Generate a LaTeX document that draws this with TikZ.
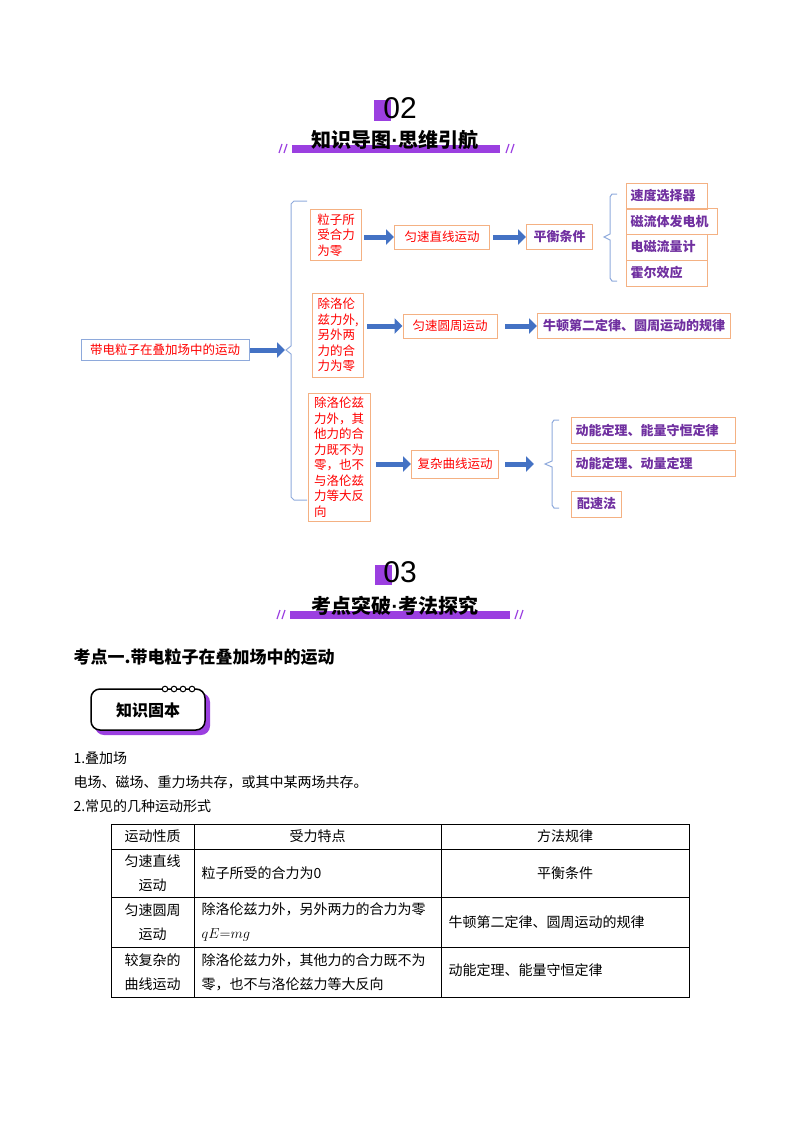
\documentclass[tikz,border=0pt]{standalone}
\usepackage{fontspec}
\setmainfont{Noto Sans CJK SC}
\newfontfamily\latinsans{Liberation Sans}
\usetikzlibrary{arrows.meta}
\definecolor{pur}{HTML}{9B3FE0}
\definecolor{tpur}{HTML}{7030A0}
\definecolor{obord}{HTML}{F4B183}
\definecolor{bbord}{HTML}{8EA9DB}
\definecolor{arr}{HTML}{4472C4}
\definecolor{brk}{HTML}{8FAADC}
\tikzset{
 box/.style={draw=obord,line width=1,inner sep=2,align=left,text=red,font=\fontsize{12.5}{15.5}\selectfont},
 pbox/.style={draw=obord,line width=1,inner xsep=4,inner ysep=3,anchor=west,text=tpur,align=left,font=\bfseries\fontsize{13}{15}\selectfont},
 barrow/.style={arr,line width=5,-{Triangle[length=8,width=15]}},
 brkt/.style={brk,line width=1},
 body/.style={anchor=west,font=\fontsize{14}{17}\selectfont},
 cell/.style={font=\fontsize{14}{24}\selectfont,align=center},
}
\begin{document}
\begin{tikzpicture}[x=1pt,y=-1pt]
\useasboundingbox (0,0) rectangle (800,1132);
% header 02
\fill[pur] (374,100) rectangle (391,121);
\node (n02) at (400,108) {\latinsans\fontsize{30}{30}\selectfont 02};
\fill[pur] (292,145) rectangle (500,153);
\node (t02) at (395,140) {\bfseries\fontsize{20}{20}\selectfont 知识导图{\latinsans ·}思维引航};
\foreach \x in {279,284,506,511}{\draw[pur,line width=1.2] (\x,153)--(\x+3,144);}
% mind map
\node[draw=bbord,line width=1,text=red,font=\fontsize{12.5}{15}\selectfont,minimum width=168,minimum height=21,inner sep=1] (root) at (165,350) {带电粒子在叠加场中的运动};
\coordinate (b1) at (285,350);
\draw[barrow] (250,350) -- (b1);
\draw[brkt] (307,201)--(294,201)--(291,204)--(291,346)--(286,350)--(291,354)--(291,497)--(294,500)--(307,500);
\node[box,minimum width=51,minimum height=51] (a1) at (336,235) {粒子所\\受合力\\为零};
\node[box,minimum width=51,minimum height=84] (a2) at (338,335) {除洛伦\\兹力外,\\另外两\\力的合\\力为零};
\node[box,minimum width=62,minimum height=128] (a3) at (339,457) {除洛伦兹\\力外，其\\他力的合\\力既不为\\零，也不\\与洛伦兹\\力等大反\\向};
\node[box,minimum width=95,minimum height=24] (m1) at (442,237) {匀速直线运动};
\node[box,minimum width=94,minimum height=24] (m2) at (450,326) {匀速圆周运动};
\node[box,minimum width=87,minimum height=28] (m3) at (455,464) {复杂曲线运动};
\draw[barrow] (364,237) -- (m1.west);
\draw[barrow] (367,326) -- (m2.west);
\draw[barrow] (376,464) -- (m3.west);
\node[pbox,minimum width=66,minimum height=25] (c1) at (526,237) {平衡条件};
\draw[barrow] (493,237) -- (c1.west);
\draw[brkt] (617,194)--(612,194)--(610,197)--(610,234)--(604,237)--(610,240)--(610,278)--(612,281)--(617,281);
\node[pbox,text width=73,minimum height=26] (d1) at (626,196) {速度选择器};
\node[pbox,text width=83,minimum height=26] (d2) at (626,221.5) {磁流体发电机};
\node[pbox,text width=73,minimum height=26] (d3) at (626,247) {电磁流量计};
\node[pbox,text width=73,minimum height=26] (d4) at (626,273) {霍尔效应};
\node[pbox,minimum width=193,minimum height=25] (c2) at (537,326) {牛顿第二定律、圆周运动的规律};
\draw[barrow] (505,326) -- (c2.west);
\coordinate (b3) at (534,464);
\draw[barrow] (505,464) -- (b3);
\draw[brkt] (559,420)--(554,420)--(552,423)--(552,461)--(545,464)--(552,467)--(552,505)--(554,508)--(559,508);
\node[pbox,text width=156,minimum height=26] (e1) at (571,430) {动能定理、能量守恒定律};
\node[pbox,text width=156,minimum height=26] (e2) at (571,463) {动能定理、动量定理};
\node[pbox,minimum width=50,minimum height=26] (e3) at (571,504) {配速法};
% header 03
\fill[pur] (375,565) rectangle (392,585);
\node (n03) at (400,572) {\latinsans\fontsize{30}{30}\selectfont 03};
\fill[pur] (290,611) rectangle (510,619);
\node (t03) at (395,606) {\bfseries\fontsize{20}{20}\selectfont 考点突破{\latinsans ·}考法探究};
\foreach \x in {277,282,515,520}{\draw[pur,line width=1.2] (\x,619)--(\x+3,610);}
\node[anchor=west] (k1) at (70,657) {\bfseries\fontsize{17}{17}\selectfont 考点一.带电粒子在叠加场中的运动};
% badge
\fill[pur,rounded corners=9] (95,693) rectangle (210,735);
\draw[fill=white,line width=1.5,rounded corners=9] (91,689) rectangle (205,730);
\foreach \x in {165,174,183,192}{\draw[fill=white,line width=1] (\x,689) circle (2.8);}
\node (bd) at (148,710) {\bfseries\fontsize{16}{16}\selectfont 知识固本};
\node[body] (l1) at (70,758) {1.叠加场};
\node[body] (l2) at (70,782) {电场、磁场、重力场共存，或其中某两场共存。};
\node[body] (l3) at (70,806) {2.常见的几种运动形式};
% table
\draw[line width=0.8] (111,824) rectangle (689,997);
\foreach \y in {849,897,947}{\draw[line width=0.8] (111,\y)--(689,\y);}
\foreach \x in {194,441}{\draw[line width=0.8] (\x,824)--(\x,997);}
\node[cell] (h1) at (152.5,836.5) {运动性质};
\node[cell] (h2) at (317.5,836.5) {受力特点};
\node[cell] (h3) at (565,836.5) {方法规律};
\node[cell] (r1a) at (152.5,873) {匀速直线\\运动};
\node[cell,anchor=west] (r1b) at (198,873) {粒子所受的合力为0};
\node[cell] (r1c) at (565,873) {平衡条件};
\node[cell] (r2a) at (152.5,922) {匀速圆周\\运动};
\node[cell,anchor=west,align=left] (r2b) at (198,922) {除洛伦兹力外，另外两力的合力为零\\$qE{=}mg$};
\node[cell,anchor=west] (r2c) at (445,922) {牛顿第二定律、圆周运动的规律};
\node[cell] (r3a) at (152.5,972) {较复杂的\\曲线运动};
\node[cell,anchor=west,align=left] (r3b) at (198,972) {除洛伦兹力外，其他力的合力既不为\\零，也不与洛伦兹力等大反向};
\node[cell,anchor=west] (r3c) at (445,970) {动能定理、能量守恒定律};
\end{tikzpicture}
\end{document}
